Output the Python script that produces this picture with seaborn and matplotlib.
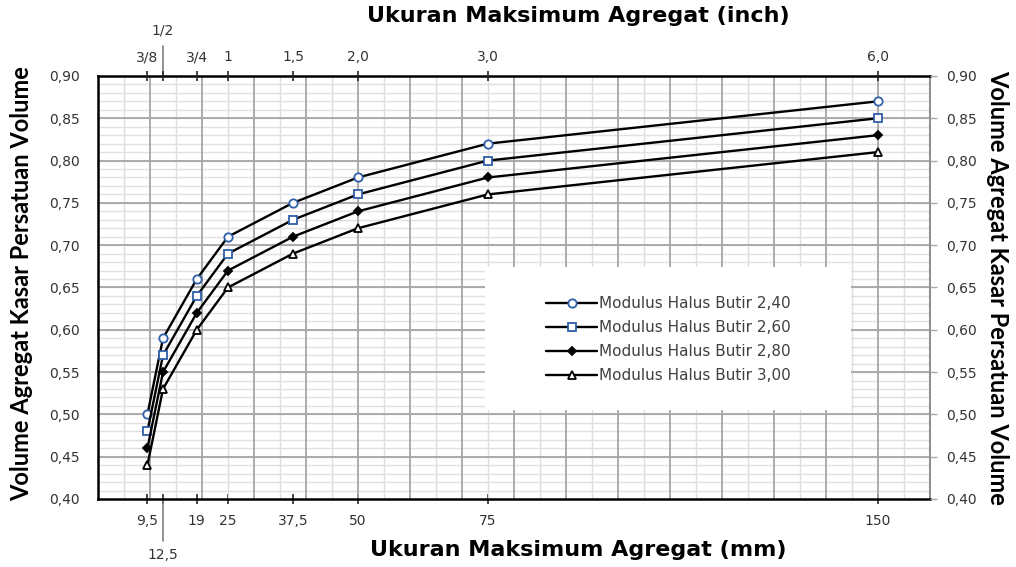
import numpy as np
import pandas as pd
import matplotlib
matplotlib.use('Agg')
import matplotlib.pyplot as plt
import seaborn as sns
from matplotlib.patches import Rectangle

# data
ukuran_mm = [9.5, 12.5, 19, 25, 37.5, 50, 75, 150]
mhb_240 = [0.50, 0.59, 0.66, 0.71, 0.75, 0.78, 0.82, 0.87]
mhb_260 = [0.48, 0.57, 0.64, 0.69, 0.73, 0.76, 0.80, 0.85]
mhb_280 = [0.46, 0.55, 0.62, 0.67, 0.71, 0.74, 0.78, 0.83]
mhb_300 = [0.44, 0.53, 0.60, 0.65, 0.69, 0.72, 0.76, 0.81]
nama_seri = ['Modulus Halus Butir 2,40', 'Modulus Halus Butir 2,60',
             'Modulus Halus Butir 2,80', 'Modulus Halus Butir 3,00']

tick_mm = [9.5, 12.5, 19, 25, 37.5, 50, 75, 150]
label_mm = ['9,5', '', '19', '25', '37,5', '50', '75', '150']
label_inch = ['3/8', '', '3/4', '1', '1,5', '2,0', '3,0', '6,0']
tick_y = [0.40, 0.45, 0.50, 0.55, 0.60, 0.65, 0.70, 0.75, 0.80, 0.85, 0.90]

sns.set_theme(style='white')
plt.rcParams['font.family'] = ['DejaVu Sans']

df = pd.DataFrame({'mm': ukuran_mm * 4,
                   'vol': mhb_240 + mhb_260 + mhb_280 + mhb_300,
                   'seri': sum([[n] * len(ukuran_mm) for n in nama_seri], [])})

fig = plt.figure(figsize=(10.16, 5.67), dpi=100)
ax = fig.add_axes([0.0965, 0.12, 0.8185, 0.746])

gaya = {
    nama_seri[0]: dict(marker='o', markerfacecolor='white', markeredgecolor='#2e5fa8', markersize=6),
    nama_seri[1]: dict(marker='s', markerfacecolor='white', markeredgecolor='#2e5fa8', markersize=6),
    nama_seri[2]: dict(marker='D', markerfacecolor='black', markeredgecolor='black', markersize=4),
    nama_seri[3]: dict(marker='^', markerfacecolor='white', markeredgecolor='black', markersize=6),
}
for n in nama_seri:
    sub = df[df['seri'] == n]
    sns.lineplot(data=sub, x='mm', y='vol', ax=ax, color='black', linewidth=1.7,
                 markeredgewidth=1.3, label=n, zorder=4, **gaya[n])

ax.set_xlim(0, 160)
ax.set_ylim(0.40, 0.90)

# grid: major every 10 mm / 0.05, minor every 5 mm / 0.01
ax.grid(False)
for x in np.arange(10, 160, 10):
    ax.axvline(x, color='#a6a6a6', lw=1.3, zorder=1)
for x in np.arange(5, 160, 10):
    ax.axvline(x, color='#dedede', lw=1.0, zorder=0.9)
for y in np.arange(0.45, 0.90, 0.05):
    ax.axhline(y, color='#a6a6a6', lw=1.3, zorder=1)
for y in np.arange(0.41, 0.90, 0.01):
    ax.axhline(y, color='#e0e0e0', lw=1.0, zorder=0.9)

# white box behind the legend
ax.add_patch(Rectangle((0.465, 0.21), 0.44, 0.338, transform=ax.transAxes,
                       facecolor='white', edgecolor='none', zorder=2))

ax.set_xticks(tick_mm)
ax.set_xticklabels(label_mm)
ax.set_yticks(tick_y)
ax.set_yticklabels([f'{v:.2f}'.replace('.', ',') for v in tick_y])
ax.tick_params(axis='x', which='major', direction='inout', length=7, width=1.2,
               labelsize=10, labelcolor='#333333', pad=7, bottom=True)
ax.tick_params(axis='y', which='major', length=0, labelsize=10, labelcolor='#333333',
               pad=13, left=True)

for s in ['left', 'bottom', 'top']:
    ax.spines[s].set_color('black')
    ax.spines[s].set_linewidth(1.8)
ax.spines['right'].set_color('#909090')
ax.spines['right'].set_linewidth(1.5)

ax.set_xlabel('Ukuran Maksimum Agregat (mm)', fontsize=16, fontweight='bold', color='black')
ax.xaxis.set_label_coords(0.578, -0.097)
ax.set_ylabel('Volume Agregat Kasar Persatuan Volume', fontsize=17, fontweight='bold',
              color='black', family='Lato')
ax.yaxis.set_label_coords(-0.078, 0.509)

# top axis in inch
axt = ax.twiny()
axt.set_xlim(ax.get_xlim())
axt.set_xticks(tick_mm)
axt.set_xticklabels(label_inch)
axt.tick_params(axis='x', direction='inout', length=7, width=1.2, labelsize=10,
                labelcolor='#333333', pad=5, top=True)
axt.set_xlabel('Ukuran Maksimum Agregat (inch)', fontsize=16, fontweight='bold', color='black')
axt.xaxis.set_label_coords(0.578, 1.128)
for s in axt.spines.values():
    s.set_visible(False)

# right axis
axr = ax.twinx()
axr.set_ylim(ax.get_ylim())
axr.set_yticks(tick_y)
axr.set_yticklabels([f'{v:.2f}'.replace('.', ',') for v in tick_y])
axr.tick_params(axis='y', direction='out', length=5, width=1.0, color='#a6a6a6',
                labelsize=10, labelcolor='#333333', pad=7, right=True)
axr.set_ylabel('Volume Agregat Kasar Persatuan Volume', fontsize=17, fontweight='bold',
               color='black', rotation=270, family='Lato')
axr.yaxis.set_label_coords(1.096, 0.5)
for s in axr.spines.values():
    s.set_visible(False)

# 12,5 and 1/2 labels with leader lines
trans = ax.get_xaxis_transform()
ax.plot([12.5, 12.5], [0, -0.1], transform=trans, color='#808080', lw=1.2, clip_on=False)
ax.text(12.5, -0.132, '12,5', transform=trans, ha='center', va='center', fontsize=10, color='#333333')
ax.plot([12.5, 12.5], [1, 1.072], transform=trans, color='#808080', lw=1.2, clip_on=False)
ax.text(12.5, 1.108, '1/2', transform=trans, ha='center', va='center', fontsize=10, color='#333333')

leg = ax.legend(loc='upper left', bbox_to_anchor=(0.53, 0.498), frameon=False,
                fontsize=11, handlelength=3.3, handletextpad=0.15, labelspacing=0.6, borderpad=0)
for t in leg.get_texts():
    t.set_color('#404040')
leg.set_zorder(5)

fig.savefig('out.png', dpi=100)
